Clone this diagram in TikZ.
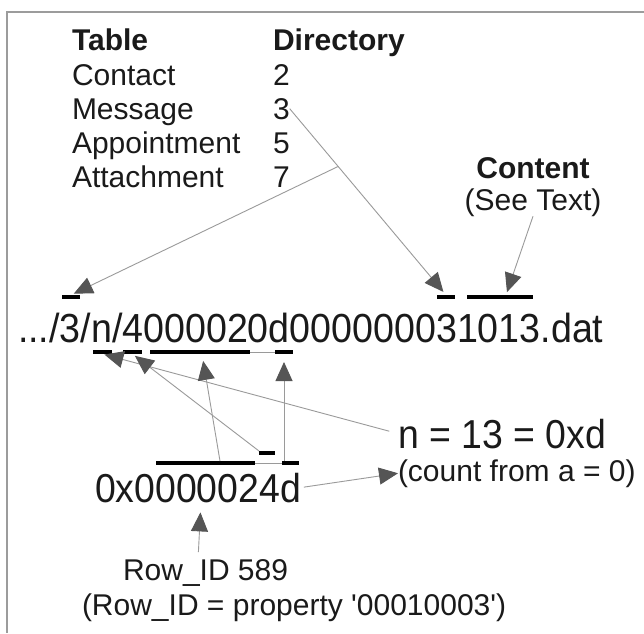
\documentclass[tikz,border=0pt]{standalone}
\usepackage{fontspec}
\setmainfont{Liberation Sans}
\usetikzlibrary{arrows.meta,calc}
\definecolor{framegray}{HTML}{9C9C9C}
\definecolor{linegray}{HTML}{9A9A9A}
\definecolor{tipgray}{HTML}{555555}
\definecolor{txt}{HTML}{1A1A1A}
\newcommand{\tallbox}[1]{\scalebox{1}[1.08]{#1}}
\begin{document}
\begin{tikzpicture}[x=1pt,y=-1pt,
  lbl/.style={inner sep=0pt, outer sep=0pt, anchor=base west, text=txt},
  fthirty/.style={font=\fontsize{30}{36}\selectfont},
  fthirtyb/.style={font=\fontsize{30}{36}\selectfont\bfseries},
  fbig/.style={font=\fontsize{37.6}{44}\selectfont},
  fhex/.style={font=\fontsize{37.4}{44}\selectfont},
  bar/.style={fill=black, draw=none, inner sep=0pt, outer sep=0pt, minimum height=4pt},
  conn/.style={draw=linegray, line width=0.9pt, -{Triangle[length=19pt,width=17pt,color=tipgray]}},
  joiner/.style={draw=linegray, line width=0.9pt}
]
\useasboundingbox (0,0) rectangle (644,633);
\fill[white] (0,0) rectangle (644,633);
\draw[framegray, line width=2pt] (644,12) -- (7,12) -- (7,633);

% table
\node[lbl,fthirtyb] (thTable) at (72,50) {Table};
\node[lbl,fthirtyb] (thDir) at (273,50) {Directory};
\node[lbl,fthirty] (tContact) at (72,85) {Contact};
\node[lbl,fthirty] (d2) at (273,85) {2};
\node[lbl,fthirty] (tMessage) at (72,119) {Message};
\node[lbl,fthirty] (d3) at (273,119) {3};
\node[lbl,fthirty] (tAppt) at (72,153) {Appointment};
\node[lbl,fthirty] (d5) at (273,153) {5};
\node[lbl,fthirty] (tAttach) at (72,187) {Attachment};
\node[lbl,fthirty] (d7) at (273,187) {7};

% content
\node[lbl,fthirtyb,anchor=base] (content) at (533,178) {Content};
\node[lbl,fthirty,anchor=base] (seetext) at (533,210) {(See Text)};

% path string
\node[lbl,fbig] (path) at (18,342) {\tallbox{.../3/n/4000020d000000031013.dat}};

% hex, n
\node[lbl,fhex] (hex) at (95,502) {\tallbox{0x0000024d}};
\node[lbl,fhex] (nval) at (398,448) {\tallbox{n = 13 = 0xd}};
\node[lbl,fthirty] (count) at (398,481) {(count from a = 0)};

% row id
\node[lbl,fthirty] (rowid) at (123,580) {Row\_ID 589};
\node[lbl,fthirty] (rowprop) at (82,615) {(Row\_ID = property \textquotesingle 00010003\textquotesingle)};

% bars above path
\node[bar, minimum width=18pt] (b0) at (71,297) {};
\node[bar, minimum width=18pt] (bA) at (446,297) {};
\node[bar, minimum width=66pt] (bB) at (500,297) {};
% bars below path
\node[bar, minimum width=19pt] (b1) at (102.5,352) {};
\node[bar, minimum width=19pt] (b2) at (132.5,352) {};
\node[bar, minimum width=100pt] (b3) at (200,352) {};
\node[bar, minimum width=18pt] (b4) at (284,352) {};
% bars above hex
\node[bar, minimum width=99pt] (lb) at (205.5,463) {};
\node[bar, minimum width=16pt] (rb) at (267,453) {};
\node[bar, minimum width=17pt] (db) at (290,463) {};

\draw[joiner] (b3.east) -- (b4.west);
\draw[joiner] (lb.east) -- (db.west);

% connectors
\coordinate (J) at ($(d3.east)!0.31!(bA.north)$);
\draw[conn, shorten >=4pt] (d3.east) -- (bA.north);
\draw[conn, shorten >=3pt] (J) -- (b0.north);
\draw[conn, shorten >=3pt] (seetext.south) -- ($(bB.north)+(6,0)$);
\draw[conn, shorten <=9pt, shorten >=2pt] (nval.west) -- (b1.south);
\draw[conn, shorten >=3pt] (rb.north west) -- (b2.south);
\draw[conn, shorten >=7pt] ($(lb.north)+(14.5,0)$) -- ($(b3.south)+(2,0)$);
\draw[conn, shorten >=8pt] ($(db.north)+(-6,0)$) -- (b4.south);
\draw[conn, shorten <=7pt, shorten >=10pt] ($(rowid.north)+(-7.5,0)$) -- ($(hex.south)+(3,0)$);
\draw[conn, shorten <=3pt] (hex.east) -- (count.west);
\end{tikzpicture}
\end{document}
